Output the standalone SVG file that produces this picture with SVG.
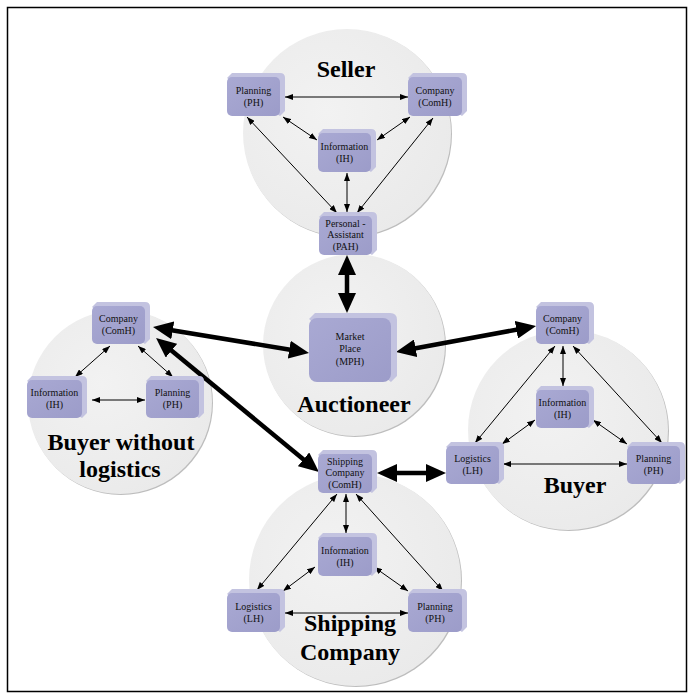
<svg xmlns="http://www.w3.org/2000/svg" width="693" height="698" viewBox="0 0 693 698">
  <style>
    .zone { fill: url(#zoneFill); }
    .zoneEdge { fill: #bdbdbd; }
    .title { font-family: "Liberation Serif", "Times New Roman", serif; font-weight: bold; font-size: 24px; fill: #000; text-anchor: middle; }
    .lbl { font-family: "Liberation Serif", "Times New Roman", serif; font-size: 10px; fill: #111; text-anchor: middle; }
    .face { fill: url(#faceFill); }
    .bevel { fill: #c3c3e0; }
    .thin { stroke: #000; stroke-width: 1; fill: none; marker-start: url(#ah); marker-end: url(#ah); }
    .thick { stroke: #000; stroke-width: 4.5; fill: none; marker-start: url(#ahBig); marker-end: url(#ahBig); }
  </style>
  <defs>
    <radialGradient id="zoneFill" cx="0.4" cy="0.4" r="0.65">
      <stop offset="0" stop-color="#f2f2f2"/>
      <stop offset="1" stop-color="#eaeaea"/>
    </radialGradient>
    <linearGradient id="faceFill" x1="0" y1="0" x2="1" y2="1">
      <stop offset="0" stop-color="#a9a9d3"/>
      <stop offset="1" stop-color="#9c9cc9"/>
    </linearGradient>
    <marker id="ah" viewBox="0 0 8 6" refX="8" refY="3" markerWidth="8" markerHeight="6" markerUnits="userSpaceOnUse" orient="auto-start-reverse">
      <path d="M0,0 L8,3 L0,6 Z" fill="#000"/>
    </marker>
    <marker id="ahBig" viewBox="0 0 20 18" refX="4" refY="9" markerWidth="20" markerHeight="18" markerUnits="userSpaceOnUse" orient="auto-start-reverse">
      <path d="M0,0 L20,9 L0,18 Z" fill="#000"/>
    </marker>
  </defs>

  <rect width="693" height="698" fill="#fff"/>
  <rect x="7.5" y="7.5" width="679" height="684" fill="none" stroke="#000" stroke-width="1.5"/>

  <!-- agent zones -->
  <g id="zones">
    <circle class="zoneEdge" cx="348" cy="134" r="104"/>
    <circle class="zone" cx="347" cy="133" r="104"/>
    <circle class="zoneEdge" cx="355" cy="346" r="91"/>
    <circle class="zone" cx="354" cy="345" r="91"/>
    <circle class="zoneEdge" cx="121" cy="403" r="92"/>
    <circle class="zone" cx="120" cy="402" r="92"/>
    <circle class="zoneEdge" cx="569" cy="431" r="100"/>
    <circle class="zone" cx="568" cy="430" r="100"/>
    <circle class="zoneEdge" cx="356" cy="581" r="106"/>
    <circle class="zone" cx="355" cy="580" r="106"/>
  </g>

  <g id="zone-titles">
    <text class="title" x="346" y="77">Seller</text>
    <text class="title" x="354" y="412">Auctioneer</text>
    <text class="title" x="121" y="450">Buyer without</text>
    <text class="title" x="120" y="477">logistics</text>
    <text class="title" x="575" y="493">Buyer</text>
    <text class="title" x="350" y="631">Shipping</text>
    <text class="title" x="350" y="660">Company</text>
  </g>

  <!-- connectors -->
  <g id="connectors">
    <!-- seller -->
    <line class="thin" x1="285" y1="97" x2="408" y2="97"/>
    <line class="thin" x1="283" y1="117" x2="317" y2="140"/>
    <line class="thin" x1="410" y1="117" x2="377" y2="140"/>
    <line class="thin" x1="247" y1="117" x2="337" y2="213"/>
    <line class="thin" x1="433" y1="118" x2="357" y2="213"/>
    <line class="thin" x1="347" y1="173" x2="347" y2="212"/>
    <!-- buyer without logistics -->
    <line class="thin" x1="110" y1="346" x2="75" y2="377"/>
    <line class="thin" x1="138" y1="346" x2="173" y2="377"/>
    <line class="thin" x1="92" y1="400" x2="145" y2="400"/>
    <!-- buyer -->
    <line class="thin" x1="563" y1="346" x2="563" y2="386"/>
    <line class="thin" x1="555" y1="346" x2="475" y2="443"/>
    <line class="thin" x1="573" y1="346" x2="662" y2="443"/>
    <line class="thin" x1="535" y1="420" x2="502" y2="444"/>
    <line class="thin" x1="593" y1="420" x2="627" y2="444"/>
    <line class="thin" x1="503" y1="464" x2="627" y2="464"/>
    <!-- shipping company -->
    <line class="thin" x1="346" y1="494" x2="346" y2="533"/>
    <line class="thin" x1="337" y1="494" x2="257" y2="590"/>
    <line class="thin" x1="356" y1="494" x2="443" y2="591"/>
    <line class="thin" x1="315" y1="567" x2="283" y2="591"/>
    <line class="thin" x1="374" y1="567" x2="408" y2="591"/>
    <line class="thin" x1="285" y1="613" x2="408" y2="613"/>
    <!-- inter-agent links (end points sit 16px short of the arrow tips) -->
    <line class="thick" x1="347" y1="271" x2="347" y2="297"/>
    <line class="thick" x1="168.8" y1="329.7" x2="293.2" y2="350.3"/>
    <line class="thick" x1="168.4" y1="348.1" x2="306.6" y2="461.9"/>
    <line class="thick" x1="411.7" y1="349" x2="520.3" y2="329"/>
    <line class="thick" x1="393" y1="473" x2="430" y2="473"/>
  </g>

  <!-- handler nodes -->
  <g id="seller-planning">
    <path class="bevel" d="M227,78 L232,73 L280,73 Q285,73 285,78 L285,111 L280,116 Z"/>
    <rect class="face" x="227" y="77" width="53" height="39" rx="5"/>
    <text class="lbl" x="253.5" y="94">Planning</text><text class="lbl" x="253.5" y="106">(PH)</text>
  </g>
  <g id="seller-company">
    <path class="bevel" d="M408,78 L413,73 L462,73 Q467,73 467,78 L467,111 L462,116 Z"/>
    <rect class="face" x="408" y="77" width="54" height="39" rx="5"/>
    <text class="lbl" x="435" y="94">Company</text><text class="lbl" x="435" y="106">(ComH)</text>
  </g>
  <g id="seller-information">
    <path class="bevel" d="M318,134 L323,129 L371,129 Q376,129 376,134 L376,167 L371,172 Z"/>
    <rect class="face" x="318" y="133" width="53" height="39" rx="5"/>
    <text class="lbl" x="344.5" y="150">Information</text><text class="lbl" x="344.5" y="162">(IH)</text>
  </g>
  <g id="seller-assistant">
    <path class="bevel" d="M319,217 L324,212 L372,212 Q377,212 377,217 L377,250 L372,255 Z"/>
    <rect class="face" x="319" y="216" width="53" height="39" rx="5"/>
    <text class="lbl" x="345.5" y="227">Personal -</text><text class="lbl" x="345.5" y="238">Assistant</text><text class="lbl" x="345.5" y="250">(PAH)</text>
  </g>
  <g id="auctioneer-marketplace">
    <path class="bevel" d="M309,319 L315,313 L390,313 Q397,313 397,320 L397,376 L391,382 Z"/>
    <rect class="face" x="309" y="318" width="82" height="64" rx="8"/>
    <text class="lbl" x="350" y="340">Market</text><text class="lbl" x="350" y="352">Place</text><text class="lbl" x="350" y="365">(MPH)</text>
  </g>

  <g id="bwl-company">
    <path class="bevel" d="M92,307 L97,302 L145,302 Q150,302 150,307 L150,339 L145,344 Z"/>
    <rect class="face" x="92" y="306" width="53" height="38" rx="5"/>
    <text class="lbl" x="118.5" y="322">Company</text><text class="lbl" x="118.5" y="334">(ComH)</text>
  </g>
  <g id="bwl-information">
    <path class="bevel" d="M27,381 L32,376 L82,376 Q87,376 87,381 L87,413 L82,418 Z"/>
    <rect class="face" x="27" y="380" width="55" height="38" rx="5"/>
    <text class="lbl" x="54.5" y="396">Information</text><text class="lbl" x="54.5" y="408">(IH)</text>
  </g>
  <g id="bwl-planning">
    <path class="bevel" d="M146,381 L151,376 L199,376 Q204,376 204,381 L204,413 L199,418 Z"/>
    <rect class="face" x="146" y="380" width="53" height="38" rx="5"/>
    <text class="lbl" x="172.5" y="396">Planning</text><text class="lbl" x="172.5" y="408">(PH)</text>
  </g>

  <g id="buyer-company">
    <path class="bevel" d="M536,307 L541,302 L589,302 Q594,302 594,307 L594,339 L589,344 Z"/>
    <rect class="face" x="536" y="306" width="53" height="38" rx="5"/>
    <text class="lbl" x="562.5" y="322">Company</text><text class="lbl" x="562.5" y="334">(ComH)</text>
  </g>
  <g id="buyer-information">
    <path class="bevel" d="M536,391 L541,386 L589,386 Q594,386 594,391 L594,423 L589,428 Z"/>
    <rect class="face" x="536" y="390" width="53" height="38" rx="5"/>
    <text class="lbl" x="562.5" y="406">Information</text><text class="lbl" x="562.5" y="418">(IH)</text>
  </g>
  <g id="buyer-logistics">
    <path class="bevel" d="M446,447 L451,442 L499,442 Q504,442 504,447 L504,479 L499,484 Z"/>
    <rect class="face" x="446" y="446" width="53" height="38" rx="5"/>
    <text class="lbl" x="472.5" y="462">Logistics</text><text class="lbl" x="472.5" y="474">(LH)</text>
  </g>
  <g id="buyer-planning">
    <path class="bevel" d="M627,447 L632,442 L680,442 Q685,442 685,447 L685,479 L680,484 Z"/>
    <rect class="face" x="627" y="446" width="53" height="38" rx="5"/>
    <text class="lbl" x="653.5" y="462">Planning</text><text class="lbl" x="653.5" y="474">(PH)</text>
  </g>

  <g id="shipping-company">
    <path class="bevel" d="M318,455 L323,450 L372,450 Q377,450 377,455 L377,488 L372,493 Z"/>
    <rect class="face" x="318" y="454" width="54" height="39" rx="5"/>
    <text class="lbl" x="345" y="465">Shipping</text><text class="lbl" x="345" y="476">Company</text><text class="lbl" x="345" y="488">(ComH)</text>
  </g>
  <g id="shipping-information">
    <path class="bevel" d="M318,538 L323,533 L372,533 Q377,533 377,538 L377,571 L372,576 Z"/>
    <rect class="face" x="318" y="537" width="54" height="39" rx="5"/>
    <text class="lbl" x="345" y="554">Information</text><text class="lbl" x="345" y="566">(IH)</text>
  </g>
  <g id="shipping-logistics">
    <path class="bevel" d="M227,594 L232,589 L280,589 Q285,589 285,594 L285,627 L280,632 Z"/>
    <rect class="face" x="227" y="593" width="53" height="39" rx="5"/>
    <text class="lbl" x="253.5" y="610">Logistics</text><text class="lbl" x="253.5" y="622">(LH)</text>
  </g>
  <g id="shipping-planning">
    <path class="bevel" d="M408,594 L413,589 L462,589 Q467,589 467,594 L467,627 L462,632 Z"/>
    <rect class="face" x="408" y="593" width="54" height="39" rx="5"/>
    <text class="lbl" x="435" y="610">Planning</text><text class="lbl" x="435" y="622">(PH)</text>
  </g>
</svg>
